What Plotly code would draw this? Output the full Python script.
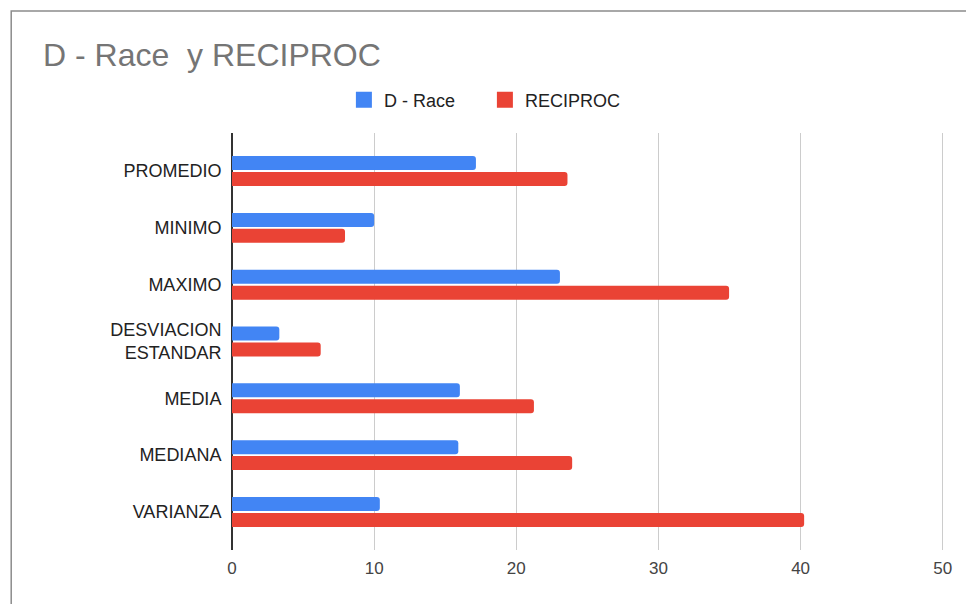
import plotly.graph_objects as go

categories = ["PROMEDIO", "MINIMO", "MAXIMO", "DESVIACION<br>ESTANDAR",
              "MEDIA", "MEDIANA", "VARIANZA"]
d_race = [17.16, 10.0, 23.07, 3.33, 16.03, 15.92, 10.4]
reciproc = [23.6, 7.95, 34.97, 6.24, 21.24, 23.93, 40.25]
x_ticks = [0, 10, 20, 30, 40, 50]

BLUE = "#4285F4"
RED = "#EA4335"
FONT = "Arial, Liberation Sans, sans-serif"

fig = go.Figure()
fig.add_trace(go.Bar(y=categories, x=d_race, orientation="h", name="D - Race",
                     marker=dict(color=BLUE, line=dict(width=0), cornerradius=3),
                     showlegend=False))
fig.add_trace(go.Bar(y=categories, x=reciproc, orientation="h", name="RECIPROC",
                     marker=dict(color=RED, line=dict(width=0), cornerradius=3),
                     showlegend=False))

# legend entries with larger square swatches
for name, color in [("D - Race", BLUE), ("RECIPROC", RED)]:
    fig.add_trace(go.Scatter(x=[None], y=[None], mode="markers", name=name,
                             marker=dict(symbol="square", size=16, color=color)))

# outer chart border (open on the right and bottom edges of the view)
fig.add_shape(type="rect", xref="paper", yref="paper",
              x0=-0.3088, x1=1.2, y0=-0.3, y1=1.2926,
              line=dict(color="#8c8c8c", width=1.5), fillcolor="rgba(0,0,0,0)",
              layer="below")

fig.update_layout(
    width=966, height=604,
    margin=dict(l=232, r=19, t=133, b=54),
    paper_bgcolor="white", plot_bgcolor="white",
    font=dict(family=FONT, size=17, color="#222222"),
    barmode="group", bargap=0.44, bargroupgap=0.12,
    title=dict(text="D - Race&nbsp; y RECIPROC", x=43 / 966, xanchor="left",
               xref="container", y=1 - 55 / 604, yanchor="middle", yref="container",
               font=dict(family=FONT, size=32, color="#757575")),
    legend=dict(orientation="h", x=0.1565, xanchor="left", y=1.079, yanchor="middle",
                font=dict(family=FONT, size=18, color="#222222"),
                entrywidth=96, entrywidthmode="pixels",
                itemsizing="trace", bgcolor="rgba(0,0,0,0)"),
    xaxis=dict(range=[0, 50.3], tickvals=x_ticks, showgrid=True, gridcolor="#cccccc",
               gridwidth=1, zeroline=True, zerolinecolor="#333333", zerolinewidth=2,
               showline=False, ticks="outside", ticklen=3, tickcolor="rgba(0,0,0,0)",
               tickfont=dict(size=17, color="#444444"), fixedrange=True),
    yaxis=dict(range=[6.67, -0.67], showgrid=False, zeroline=False, showline=False,
               ticks="outside", ticklen=6, tickcolor="rgba(0,0,0,0)",
               tickfont=dict(size=18, color="#222222"), fixedrange=True),
)

fig.write_html("out.html")
